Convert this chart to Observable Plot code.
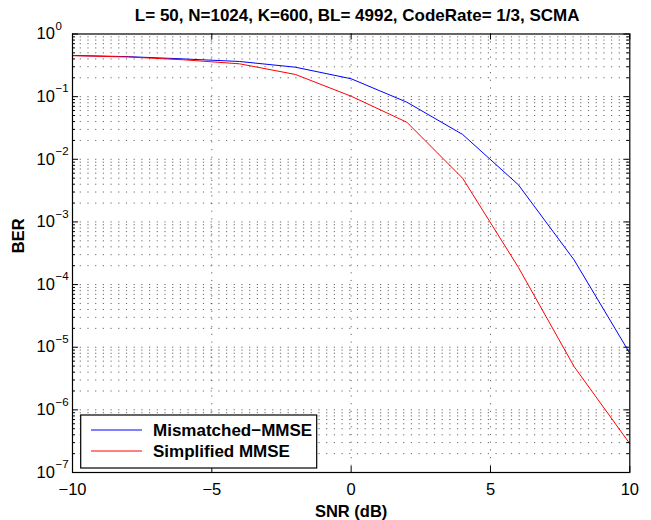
<!DOCTYPE html>
<html>
<head>
<meta charset="utf-8">
<script src="https://cdn.jsdelivr.net/npm/d3@7"></script>
<script src="https://cdn.jsdelivr.net/npm/@observablehq/plot@0.6"></script>
<style>
  body { margin: 0; background: #fff; }
  #chart svg { display: block; }
</style>
</head>
<body>
<div id="chart"></div>
<script>
// ---- data ----
const snr = [-10, -8, -6, -4, -2, 0, 2, 4, 6, 8, 10];
const mismatchedMMSE = [0.455, 0.435, 0.40, 0.364, 0.295, 0.193, 0.0815, 0.0249, 0.00392, 2.48e-4, 8.0e-6];
const simplifiedMMSE = [0.45, 0.43, 0.387, 0.334, 0.226, 0.1016, 0.039, 0.00499, 1.89e-4, 4.92e-6, 2.88e-7];
const seriesNames = ["Mismatched\u2212MMSE", "Simplified MMSE"];
const seriesColors = ["#0000ff", "#ff0000"];

const xTicks = [-10, -5, 0, 5, 10];
const xTickLabels = ["\u221210", "\u22125", "0", "5", "10"];
const xGrid = [-5, 0, 5];
const yMajor = [1e-7, 1e-6, 1e-5, 1e-4, 1e-3, 1e-2, 1e-1, 1];
const yExponents = ["\u22127", "\u22126", "\u22125", "\u22124", "\u22123", "\u22122", "\u22121", "0"];
const yMinor = yMajor.slice(0, -1).flatMap(p => [2, 3, 4, 5, 6, 7, 8, 9].map(m => m * p));

const titleText = "L= 50, N=1024, K=600, BL= 4992, CodeRate= 1/3, SCMA";
const xLabel = "SNR (dB)";
const yLabel = "BER";

// ---- table for Plot ----
const rows = [];
snr.forEach((s, i) => {
  rows.push({snr: s, ber: mismatchedMMSE[i], series: seriesNames[0]});
  rows.push({snr: s, ber: simplifiedMMSE[i], series: seriesNames[1]});
});

// ---- layout ----
const W = 651, H = 520;
const mL = 72, mR = 21.7, mT = 33.5, mB = 48;
const fw = W - mL - mR, fh = H - mT - mB;
const FONT = "'Liberation Sans', Arial, Helvetica, sans-serif";
const fs = 16.5;

const gridStyle = {stroke: "#000", strokeOpacity: 0.6, strokeDasharray: "1.2,6.5", strokeWidth: 1};

const plot = Plot.plot({
  width: W,
  height: H,
  marginLeft: mL,
  marginRight: mR,
  marginTop: mT,
  marginBottom: mB,
  style: {fontFamily: FONT, background: "#fff", color: "#000", overflow: "visible"},
  x: {domain: [-10, 10], axis: null},
  y: {type: "log", domain: [1e-7, 1], axis: null},
  color: {domain: seriesNames, range: seriesColors},
  marks: [
    Plot.gridY(yMinor, gridStyle),
    Plot.gridY(yMajor.slice(1, -1), gridStyle),
    Plot.gridX(xGrid, gridStyle),
    Plot.line(rows, {x: "snr", y: "ber", z: "series", stroke: "series", strokeWidth: 1}),
    // inward ticks (box)
    Plot.tickY(yMajor, {y: d => d, insetRight: fw - 6, stroke: "#000"}),
    Plot.tickY(yMajor, {y: d => d, insetLeft: fw - 6, stroke: "#000"}),
    Plot.tickY(yMinor, {y: d => d, insetRight: fw - 3, stroke: "#000"}),
    Plot.tickY(yMinor, {y: d => d, insetLeft: fw - 3, stroke: "#000"}),
    Plot.tickX(xTicks, {x: d => d, insetTop: fh - 6, stroke: "#000"}),
    Plot.tickX(xTicks, {x: d => d, insetBottom: fh - 6, stroke: "#000"}),
    Plot.frame({stroke: "#000", strokeWidth: 1.2}),
    // y tick labels 10^k
    Plot.text(yMajor, {y: d => d, frameAnchor: "left", text: () => "10", dx: -36,
      textAnchor: "start", lineAnchor: "middle", fontSize: fs, fill: "#000"}),
    Plot.text(yMajor, {y: d => d, frameAnchor: "left", text: (d, i) => yExponents[i], dx: -17, dy: -8,
      textAnchor: "start", lineAnchor: "middle", fontSize: 11.5, fill: "#000"}),
    // x tick labels
    Plot.text(xTicks, {x: d => d, frameAnchor: "bottom", text: (d, i) => xTickLabels[i], dy: 11,
      lineAnchor: "top", fontSize: fs, fill: "#000"}),
    // axis labels & title
    Plot.text([xLabel], {frameAnchor: "bottom", text: d => d, dy: 44, lineAnchor: "bottom",
      fontSize: fs, fontWeight: "bold", fill: "#000"}),
    Plot.text([yLabel], {frameAnchor: "left", text: d => d, dx: -49, rotate: -90, lineAnchor: "bottom",
      fontSize: fs, fontWeight: "bold", fill: "#000"}),
    Plot.text([titleText], {frameAnchor: "top", text: d => d, dx: 6, dy: -13.5, lineAnchor: "bottom",
      fontSize: 17, fontWeight: "bold", fill: "#000"})
  ]
});

document.getElementById("chart").appendChild(plot);

// ---- legend (inside the axes, lower left) ----
const svg = d3.select(plot);
const lg = svg.append("g").attr("class", "legend").attr("text-anchor", "start");
lg.append("rect").attr("x", 80.7).attr("y", 415).attr("width", 236).attr("height", 53)
  .attr("fill", "#fff").attr("stroke", "#000").attr("stroke-width", 1.2);
seriesNames.forEach((name, i) => {
  const cy = 430 + i * 21;
  lg.append("line").attr("x1", 91).attr("x2", 142).attr("y1", cy).attr("y2", cy)
    .attr("stroke", seriesColors[i]).attr("stroke-width", 1);
  lg.append("text").attr("x", 153).attr("y", cy + 6)
    .attr("text-anchor", "start")
    .attr("font-size", 17).attr("font-weight", "bold").attr("fill", "#000")
    .attr("font-family", FONT).text(name);
});
</script>
</body>
</html>
